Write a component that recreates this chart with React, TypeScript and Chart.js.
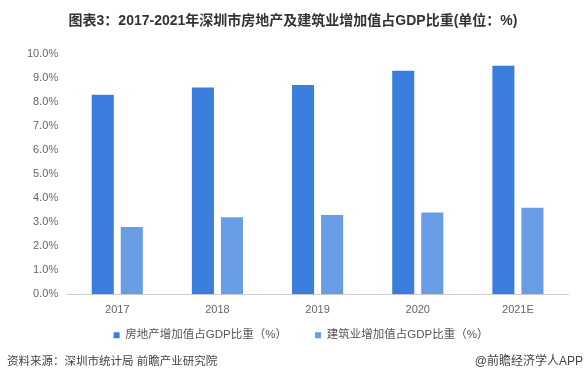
import React, { useEffect, useRef } from "react";
import { Chart, registerables } from "chart.js";

Chart.register(...registerables);

const categories = ["2017", "2018", "2019", "2020", "2021E"];
const realEstateShare = [8.3, 8.6, 8.7, 9.3, 9.5];
const constructionShare = [2.8, 3.2, 3.3, 3.4, 3.6];
const seriesNames = ["房地产增加值占GDP比重（%）", "建筑业增加值占GDP比重（%）"];
const titleText = "图表3：2017-2021年深圳市房地产及建筑业增加值占GDP比重(单位：%)";
const sourceText = "资料来源：深圳市统计局 前瞻产业研究院";
const creditText = "@前瞻经济学人APP";

const FONT = "'Liberation Sans', 'Noto Sans CJK SC', sans-serif";

const footerPlugin = {
  id: "footerText",
  afterDraw(chart: any) {
    const ctx = chart.ctx;
    ctx.save();
    ctx.fillStyle = "#444";
    ctx.textBaseline = "middle";
    ctx.textAlign = "left";
    ctx.font = `11.5px ${FONT}`;
    ctx.fillText(sourceText, 7, 362);
    ctx.textAlign = "right";
    ctx.font = `12px ${FONT}`;
    ctx.fillText(creditText, 583, 362);
    ctx.restore();
  },
};

const legendShiftPlugin = {
  id: "legendShift",
  afterLayout(chart: any) {
    const lg = chart.legend;
    if (lg) {
      lg.top -= 24;
      lg.bottom -= 24;
      lg.left += 8;
      lg.right += 8;
    }
  },
};

export default function App() {
  const ref = useRef<HTMLCanvasElement | null>(null);
  useEffect(() => {
    if (!ref.current) return;
    const chart = new Chart(ref.current, {
      type: "bar",
      data: {
        labels: categories,
        datasets: [
          {
            label: seriesNames[0],
            data: realEstateShare,
            backgroundColor: "#3b7ddd",
            categoryPercentage: 0.58,
            barPercentage: 0.76,
          },
          {
            label: seriesNames[1],
            data: constructionShare,
            backgroundColor: "#689de6",
            categoryPercentage: 0.58,
            barPercentage: 0.76,
          },
        ],
      },
      options: {
        animation: false,
        responsive: false,
        maintainAspectRatio: false,
        layout: { padding: { left: 18, right: 19, top: 0, bottom: 8 } },
        plugins: {
          title: {
            display: true,
            text: titleText,
            color: "#333",
            font: { family: FONT, size: 14, weight: "bold" },
            padding: { top: 13, bottom: 24 },
          },
          legend: {
            position: "bottom",
            labels: {
              boxWidth: 6,
              boxHeight: 6,
              color: "#555",
              font: { family: FONT, size: 11.5 },
              padding: 28,
            },
          },
          tooltip: { enabled: false },
        },
        scales: {
          x: {
            grid: { display: false, drawTicks: false },
            border: { display: true, color: "#d0d0d0" },
            ticks: { color: "#666", font: { family: FONT, size: 11 }, padding: 9 },
          },
          y: {
            min: 0,
            max: 10,
            grid: { display: false, drawTicks: false },
            border: { display: false },
            ticks: {
              stepSize: 1,
              color: "#666",
              font: { family: FONT, size: 11 },
              padding: 9,
              callback: (v: any) => Number(v).toFixed(1) + "%",
            },
          },
        },
      },
      plugins: [footerPlugin, legendShiftPlugin],
    });
    return () => chart.destroy();
  }, []);
  return (
    <div style={{ position: "absolute", left: 0, top: 0, width: 587, height: 383, background: "#fff" }}>
      <canvas ref={ref} width={587} height={383} style={{ width: 587, height: 383 }} />
    </div>
  );
}
